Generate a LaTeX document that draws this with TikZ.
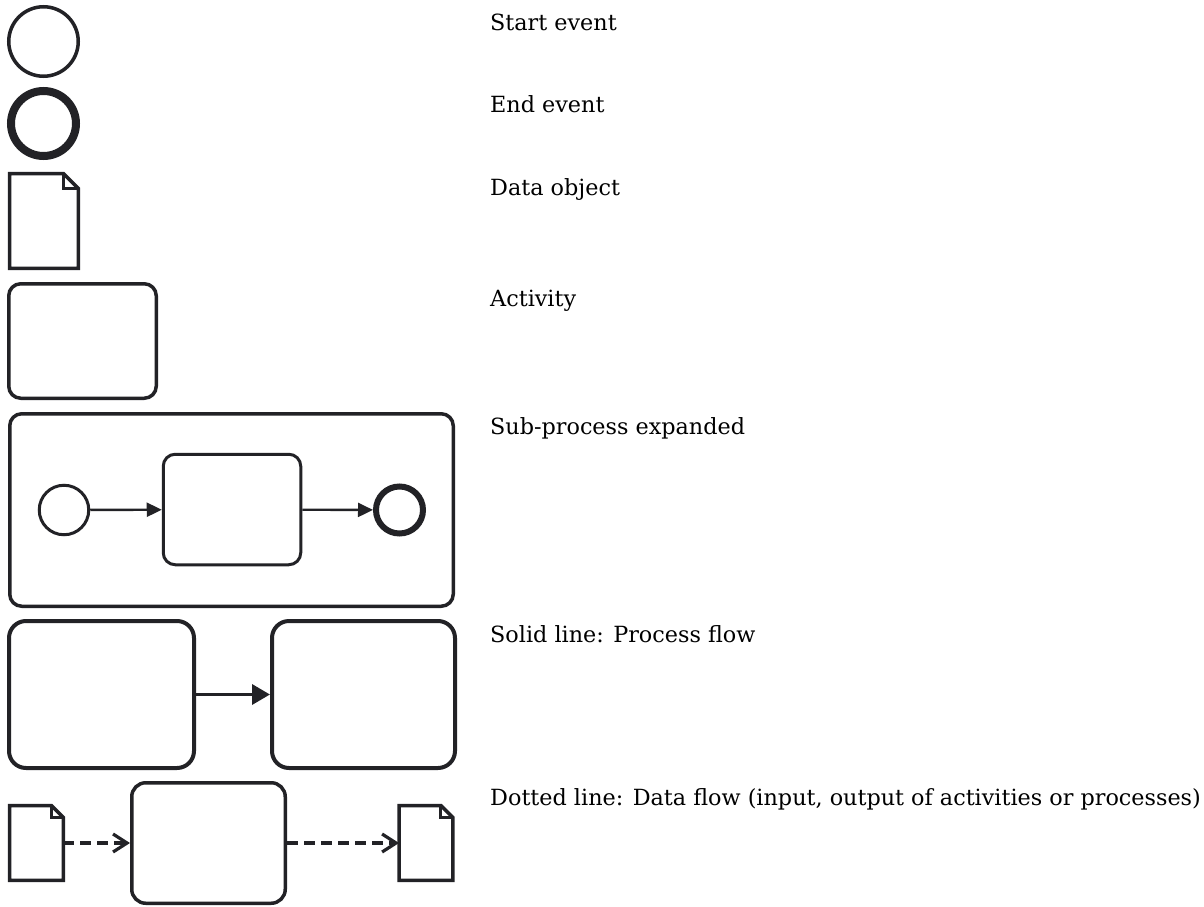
\documentclass[tikz,border=0pt]{standalone}
\usepackage{fontspec}
\setmainfont{DejaVu Serif}
\usetikzlibrary{arrows.meta}
\definecolor{ink}{RGB}{34,34,38}
\tikzset{
  shp/.style={draw=ink, fill=white, inner sep=0pt},
  evstart/.style={shp, circle, line width=3.5pt},
  evend/.style={shp, circle, line width=8pt},
  task/.style={shp, rectangle, rounded corners=12pt, line width=3.5pt},
  docbox/.style={inner sep=0pt, draw=none},
  docline/.style={draw=ink, line width=3.5pt, line join=miter},
  flowarr/.style={draw=ink, line width=2.4pt, -{Triangle[length=15pt,width=14pt]}},
  bigarr/.style={draw=ink, line width=3.5pt, -{Triangle[length=18pt,width=20pt]}},
  dataarr/.style={draw=ink, line width=3.2pt, dash pattern=on 11pt off 6pt, -{Straight Barb[length=14pt,width=18pt]}},
  lbl/.style={anchor=base west, inner sep=0pt, font=\fontsize{22.3}{26}\selectfont, text=black}
}
\newcommand\docshape[2]{%
  \draw[docline, fill=white] (#1.north west) -- ([xshift=-#2]#1.north east) -- ([yshift=-#2]#1.north east) -- (#1.south east) -- (#1.south west) -- cycle;
  \draw[docline, line width=3pt] ([xshift=-#2]#1.north east) |- ([yshift=-#2]#1.north east);
}
\begin{document}
\begin{tikzpicture}[x=1pt, y=-1pt]
\useasboundingbox (0,0) rectangle (1204,907);

% legend shapes
\node[evstart, minimum size=69.5pt] (se) at (43.5,41.5) {};
\node[evend, minimum size=65pt] (ee) at (43.5,123.5) {};
\node[docbox, minimum width=68.5pt, minimum height=94.5pt] (do) at (44,221) {};
\docshape{do}{15pt}
\node[task, minimum width=147.5pt, minimum height=114.5pt] (act) at (82.5,341) {};

% sub-process
\node[task, minimum width=443.5pt, minimum height=192.5pt] (sp) at (231.5,510) {};
\node[evstart, line width=3pt, minimum size=49.5pt] (sps) at (64,510) {};
\node[task, line width=3pt, minimum width=137.5pt, minimum height=110.5pt] (spt) at (232,509.5) {};
\node[evend, line width=6pt, minimum size=47pt] (spe) at (399.5,510) {};
\draw[flowarr] (sps) -- (spt);
\draw[flowarr] (spt) -- (spe);

% process flow
\node[task, line width=4pt, rounded corners=17pt, minimum width=185pt, minimum height=147pt] (pa) at (101.5,694.5) {};
\node[task, line width=4pt, rounded corners=17pt, minimum width=183pt, minimum height=147pt] (pb) at (363.5,694.5) {};
\draw[bigarr] (pa) -- (pb);

% data flow
\node[docbox, minimum width=53.5pt, minimum height=74.5pt] (din) at (36.5,843) {};
\docshape{din}{12pt}
\node[task, rounded corners=14pt, minimum width=153.5pt, minimum height=120.5pt] (dt) at (208.5,843) {};
\node[docbox, minimum width=53.5pt, minimum height=74.5pt] (dout) at (426,843) {};
\docshape{dout}{12pt}
\draw[dataarr] (din.east) -- (dt.west);
\draw[dataarr] (dt.east) -- (dout.west);

% labels
\node[lbl] (l1) at (490,31) {Start event};
\node[lbl] (l2) at (490,112) {End event};
\node[lbl] (l3) at (490,195) {Data object};
\node[lbl] (l4) at (490,306) {Activity};
\node[lbl] (l5) at (490,434) {Sub-process expanded};
\node[lbl] (l6) at (490,642) {Solid line: Process flow};
\node[lbl] (l7) at (490,805) {Dotted line: Data flow (input, output of activities or processes)};
\end{tikzpicture}
\end{document}
